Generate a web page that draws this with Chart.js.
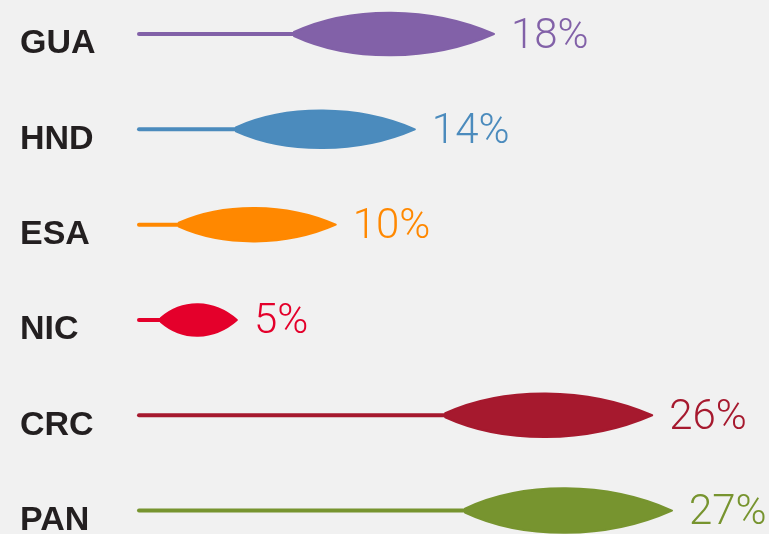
<!DOCTYPE html>
<html>
<head>
<meta charset="utf-8">
<script src="https://cdn.jsdelivr.net/npm/chart.js@4/dist/chart.umd.min.js"></script>
<style>
  html, body { margin: 0; padding: 0; background: #f1f1f1; }
  canvas { display: block; }
</style>
</head>
<body>
<canvas id="chart" width="769" height="534"></canvas>
<script>
// data
var countries = ["GUA", "HND", "ESA", "NIC", "CRC", "PAN"];
var shares = [18, 14, 10, 5, 26, 27];
var colors = ["#8261a8", "#4b8bbd", "#ff8800", "#e4002b", "#a6192e", "#77942f"];

// leaf sizes in px (style only)
var leafLength = [201, 180, 158, 77, 208, 208];
var leafHeight = [42, 37, 33, 31, 43, 44];

// draws the stem + leaf shape for each bar, plus the value label
var leafPlugin = {
  id: "leaves",
  afterDatasetsDraw: function (chart) {
    var ctx = chart.ctx;
    var meta = chart.getDatasetMeta(0);
    meta.data.forEach(function (bar, i) {
      var x0 = bar.base;
      var x1 = bar.x;
      var y = bar.y;
      var L = Math.min(leafLength[i], x1 - x0);
      var xs = x1 - L;
      var c = leafHeight[i] / 2 * 4 / 3;

      ctx.save();
      // stem
      ctx.strokeStyle = colors[i];
      ctx.lineWidth = 4;
      ctx.lineCap = "round";
      ctx.beginPath();
      ctx.moveTo(x0, y);
      ctx.lineTo(xs + 4, y);
      ctx.stroke();

      // leaf
      ctx.fillStyle = colors[i];
      ctx.lineWidth = 2;
      ctx.lineJoin = "round";
      ctx.beginPath();
      ctx.moveTo(xs, y - 2);
      ctx.bezierCurveTo(xs + 0.28 * L, y - c, xs + 0.68 * L, y - c, x1 - 1, y);
      ctx.bezierCurveTo(xs + 0.68 * L, y + c, xs + 0.28 * L, y + c, xs, y + 2);
      ctx.closePath();
      ctx.fill();
      ctx.stroke();

      // value label
      ctx.font = "300 42px Roboto, 'Liberation Sans', sans-serif";
      ctx.textAlign = "left";
      ctx.textBaseline = "middle";
      ctx.fillText(shares[i] + "%", x1 + 16, y + 3);
      ctx.restore();
    });
  }
};

var ctx = document.getElementById("chart").getContext("2d");

new Chart(ctx, {
  type: "bar",
  data: {
    labels: countries,
    datasets: [{
      data: shares,
      backgroundColor: "rgba(0,0,0,0)",
      borderWidth: 0
    }]
  },
  options: {
    indexAxis: "y",
    responsive: false,
    animation: false,
    events: [],
    layout: {
      padding: { left: 20, right: 36.7, top: 34, bottom: 21.3 }
    },
    plugins: {
      legend: { display: false },
      tooltip: { enabled: false }
    },
    scales: {
      x: {
        display: false,
        min: 0,
        max: 30
      },
      y: {
        offset: false,
        grid: { display: false },
        border: { display: false },
        afterFit: function (scale) { scale.width = 119; },
        ticks: {
          crossAlign: "far",
          labelOffset: 10,
          color: "#231f20",
          font: { family: "'Liberation Sans', Arial, sans-serif", weight: "bold", size: 34 }
        }
      }
    }
  },
  plugins: [leafPlugin]
});
</script>
</body>
</html>
